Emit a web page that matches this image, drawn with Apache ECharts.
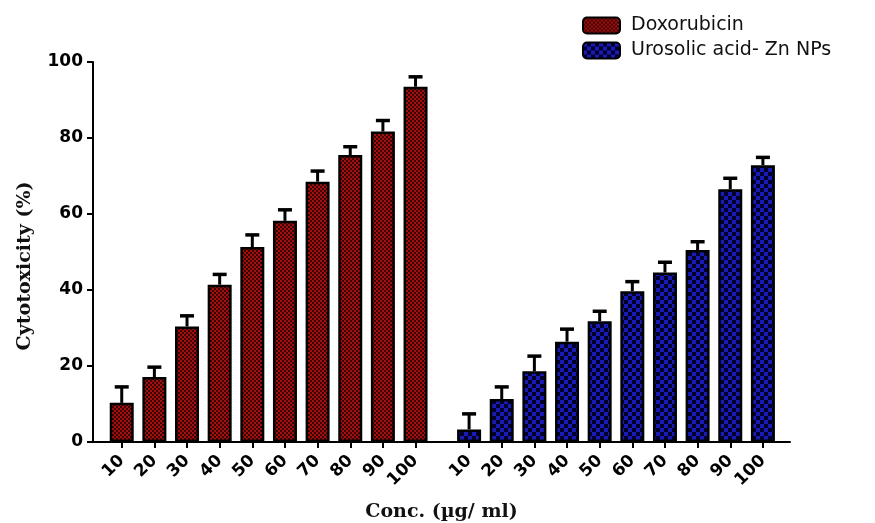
<!DOCTYPE html>
<html>
<head>
<meta charset="utf-8">
<script src="https://cdn.jsdelivr.net/npm/echarts@6/dist/echarts.min.js"></script>
<style>
  html, body { margin: 0; padding: 0; background: #fff; }
  #chart { width: 875px; height: 523px; }
</style>
</head>
<body>
<div id="chart"></div>
<script>
// Concentrations tested (µg/ml)
const concentrations = ['10', '20', '30', '40', '50', '60', '70', '80', '90', '100'];

// Mean cytotoxicity (%) and upper error
const doxorubicin = [10.3, 17.1, 30.4, 41.4, 51.3, 58.2, 68.5, 75.5, 81.7, 93.5];
const doxorubicinErr = [4.2, 2.6, 2.8, 2.7, 3.2, 2.9, 2.8, 2.2, 2.9, 2.6];
const urosolicZn = [3.3, 11.3, 18.6, 26.4, 31.8, 39.7, 44.6, 50.5, 66.5, 72.8];
const urosolicZnErr = [4.1, 3.2, 4.0, 3.3, 2.6, 2.5, 2.7, 2.2, 2.9, 2.1];

const seriesNames = ['Doxorubicin', 'Urosolic acid- Zn NPs'];

// Slot layout along the x axis: first group at 1..10, second group after a gap
const GROUP_GAP = 1.64;
const redPos = concentrations.map((c, i) => i + 1);
const bluePos = concentrations.map((c, i) => i + concentrations.length + GROUP_GAP);
const allPos = redPos.concat(bluePos);

function checker(cell, light, dark) {
  const cv = document.createElement('canvas');
  cv.width = cell * 2;
  cv.height = cell * 2;
  const ctx = cv.getContext('2d');
  ctx.fillStyle = dark;
  ctx.fillRect(0, 0, cell * 2, cell * 2);
  ctx.fillStyle = light;
  ctx.fillRect(0, 0, cell, cell);
  ctx.fillRect(cell, cell, cell, cell);
  return { image: cv, repeat: 'repeat' };
}

const redFill = checker(2, '#a3100f', '#3c0303');
const blueFill = checker(4, '#1a1ab4', '#00002e');

function labelFor(v) {
  let best = 0, bd = Infinity;
  allPos.forEach((p, i) => { const d = Math.abs(p - v); if (d < bd) { bd = d; best = i; } });
  return concentrations[best % concentrations.length];
}

function errorBars(pos, vals, errs) {
  return {
    type: 'custom',
    silent: true,
    z: 5,
    data: pos.map((p, i) => [p, vals[i], errs[i]]),
    encode: { x: 0, y: 1 },
    renderItem: function (params, api) {
      const x = api.value(0), y = api.value(1), e = api.value(2);
      const base = api.coord([x, y]);
      const top = api.coord([x, y + e]);
      const half = 7;
      return {
        type: 'group',
        children: [
          { type: 'line', shape: { x1: base[0], y1: base[1], x2: top[0], y2: top[1] },
            style: { stroke: '#000', lineWidth: 3 } },
          { type: 'line', shape: { x1: top[0] - half, y1: top[1], x2: top[0] + half, y2: top[1] },
            style: { stroke: '#000', lineWidth: 3.5 } }
        ]
      };
    }
  };
}

const chart = echarts.init(document.getElementById('chart'), null, { renderer: 'canvas' });

const tickFont = { fontFamily: 'DejaVu Sans', fontWeight: 'bold', fontSize: 17, color: '#000' };
const nameFont = { fontFamily: 'DejaVu Serif', fontWeight: 'bold', fontSize: 19, color: '#111' };

chart.setOption({
  backgroundColor: '#fff',
  animation: false,
  grid: { left: 93, right: 85, top: 62, bottom: 81, containLabel: false, outerBoundsMode: 'none' },
  legend: {
    data: seriesNames,
    orient: 'vertical',
    left: 577,
    top: 11,
    itemWidth: 37,
    itemHeight: 16,
    itemGap: 6,
    icon: 'roundRect',
    textStyle: { fontFamily: 'DejaVu Sans', fontSize: 19, lineHeight: 17, color: '#111', padding: [0, 0, 0, 6] }
  },
  xAxis: {
    type: 'value',
    min: 0.12,
    max: 21.47,
    name: 'Conc. (µg/ ml)',
    nameLocation: 'middle',
    nameGap: 61,
    nameTextStyle: nameFont,
    splitLine: { show: false },
    axisLine: { show: true, onZero: false, lineStyle: { color: '#000', width: 2 } },
    axisTick: { show: true, customValues: allPos, length: 6, lineStyle: { color: '#000', width: 2 } },
    axisLabel: Object.assign({
      customValues: allPos,
      rotate: 45,
      margin: 16,
      formatter: labelFor
    }, tickFont)
  },
  yAxis: {
    type: 'value',
    min: 0,
    max: 100,
    interval: 20,
    name: 'Cytotoxicity (%)',
    nameLocation: 'middle',
    nameGap: 58,
    nameTextStyle: Object.assign({ padding: [0, 28, 0, 0] }, nameFont),
    splitLine: { show: false },
    axisLine: { show: true, lineStyle: { color: '#000', width: 2 } },
    axisTick: { show: true, length: 6, lineStyle: { color: '#000', width: 2 } },
    axisLabel: Object.assign({ margin: 10 }, tickFont)
  },
  series: [
    {
      name: seriesNames[0],
      type: 'bar',
      barWidth: 24,
      data: redPos.map((p, i) => [p, doxorubicin[i]]),
      itemStyle: { color: redFill, borderColor: '#000', borderWidth: 2.5 }
    },
    {
      name: seriesNames[1],
      type: 'bar',
      barWidth: 24,
      barGap: '-100%',
      data: bluePos.map((p, i) => [p, urosolicZn[i]]),
      itemStyle: { color: blueFill, borderColor: '#000', borderWidth: 2.5 }
    },
    errorBars(redPos, doxorubicin, doxorubicinErr),
    errorBars(bluePos, urosolicZn, urosolicZnErr)
  ]
});
</script>
</body>
</html>
